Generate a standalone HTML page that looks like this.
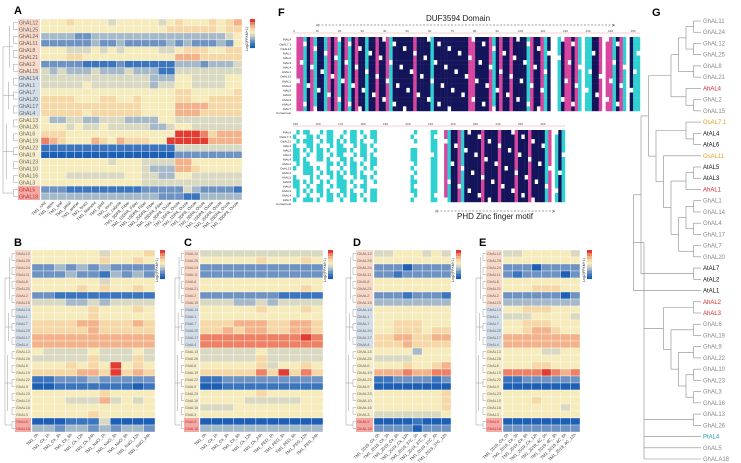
<!DOCTYPE html>
<html><head><meta charset="utf-8"><style>
body{margin:0;background:#fff;}
svg{display:block;font-family:"Liberation Sans",sans-serif;}
</style></head><body>
<svg id="fig" width="741" height="463" viewBox="0 0 741 463" xmlns="http://www.w3.org/2000/svg">
<g id="layer"></g>
</svg>
<script>
const NS="http://www.w3.org/2000/svg";
const rowNames=["GhAL12","GhAL25","GhAL24","GhAL11","GhAL8","GhAL21","GhAL2","GhAL15","GhAL14","GhAL1","GhAL7","GhAL20","GhAL17","GhAL4","GhAL13","GhAL26","GhAL6","GhAL19","GhAL22","GhAL9","GhAL23","GhAL10","GhAL16","GhAL3","GhAL5","GhAL18"];
const colsA=["TM1_root","TM1_stem","TM1_leaf","TM1_petal","TM1_anther","TM1_bract","TM1_filament","TM1_pistil","TM1_torus","TM1_calycle","TM1_5DPA_Fiber","TM1_10DPA_Fiber","TM1_15DPA_Fiber","TM1_20DPA_Fiber","TM1_25DPA_Fiber","TM1_-3DPA_Ovule","TM1_0DPA_Ovule","TM1_1DPA_Ovule","TM1_3DPA_Ovule","TM1_5DPA_Ovule","TM1_10DPA_Ovule","TM1_20DPA_Ovule","TM1_25DPA_Ovule","TM1_35DPA_Ovule"];
const colsB=["TM1_0h","TM1_Ck_1h","TM1_Ck_3h","TM1_Ck_6h","TM1_Ck_12h","TM1_Ck_24h","TM1_NaCl_1h","TM1_NaCl_3h","TM1_NaCl_6h","TM1_NaCl_12h","TM1_NaCl_24h"];
const colsC=["TM1_0h","TM1_Ck_1h","TM1_Ck_3h","TM1_Ck_6h","TM1_Ck_12h","TM1_Ck_24h","TM1_PEG_1h","TM1_PEG_3h","TM1_PEG_6h","TM1_PEG_12h","TM1_PEG_24h"];
const colsD=["TM1_2019_Ck_0h","TM1_2019_Ck_3h","TM1_2019_Ck_6h","TM1_2019_Ck_12h","TM1_2019_37C_0h","TM1_2019_37C_3h","TM1_2019_37C_6h","TM1_2019_37C_12h"];
const colsE=["TM1_2019_Ck_0h","TM1_2019_Ck_3h","TM1_2019_Ck_6h","TM1_2019_Ck_12h","TM1_2019_4C_0h","TM1_2019_4C_3h","TM1_2019_4C_6h","TM1_2019_4C_12h"];
const valsA=["555655554555554565556567","555555555555555666666566","333322333333333333333345","222222322322222323222325","555444545455554456665566","555665555555555577766666","222221111211111133323334","434333433343331144444444","444444444444433355444455","444445444444434455444455","555555555555555566555556","666655566556555566556666","666666666666555577776666","666665666666555577766666","533443344433335544444444","555454454444433455444444","666555555555555599986777","876555765766655999997777","111111111111111144444444","000000000000000022222222","555555554555444477555555","555555555555433377655555","555444444455443355444444","555555555555444444444444","222111111111222224322221","333333333333332221133333"];
const valsB=["55555545556","55555565565","22323232222","22232213232","55555545555","55556565565","22111111111","44433434444","55555655565","55555655555","66667766676","66666766666","77777777777","77777777777","54444544454","44444644464","55565659565","66667769676","11222322222","00111111101","55555565555","55544474545","55555555555","55555655555","00011140000","33233232332"];
const valsC=["44444444444","55555655565","22222222222","22222222222","55555555555","55555555565","22222221111","44433434444","55555655565","55555555555","66677766776","66767766776","88888888898","88888888888","44444544444","44444644444","55555645565","66666869686","11222222222","00111111111","55555655555","55554444455","44455555555","55555555555","00000000000","33333333333"];
const valsD=["44555454","55555555","22202222","22122222","55555555","55555555","22212221","33333333","55555555","55555555","55666555","55666566","66776677","66676666","55553555","44445555","55565567","77787788","11222212","00000000","55555556","55555556","55555556","44444445","00001000","22220222"];
const valsE=["44555554","55555555","22202222","21222202","55555555","55566655","22222202","33333333","55666555","44455554","55666555","55677655","77777777","77777777","55554455","55555555","55566555","88889878","11222222","00000000","55555555","55565555","55555545","55555555","00000000","22222222"];

const stops=["#1c5fb4","#3a75bd","#6e93c2","#a5b9c9","#d9d9c2","#f6ebbb","#f6d8a6","#f3b28a","#ee8063","#e23b30"];
const L=document.getElementById('layer');
function mk(tag,attrs,parent){const e=document.createElementNS(NS,tag);for(const k in attrs)e.setAttribute(k,attrs[k]);(parent||L).appendChild(e);return e;}
function txt(x,y,s,size,fill,parent,extra){const t=mk('text',Object.assign({x:x,y:y,'font-size':size,fill:fill},extra||{}),parent);t.textContent=s;return t;}
function groupBg(i){return i<8?"#f8d8c6":i<14?"#d3dee8":i<24?"#f6edcc":"#f3a9a6";}

function heat(name,letter,lx,ly,dx,labX,x0,y0,w,h,vals,cols,cbx){
  const g=mk('g',{});
  
  
  const t=txt(lx,ly,letter,11,"#000",g,{'font-weight':'bold'});
  
  
  const nr=vals.length,nc=vals[0].length,cw=w/nc,rh=h/nr;
  const dg=mk('g',{stroke:"#999","stroke-width":0.5,fill:"none"},g);
  
  
  const labW=x0-labX-1, fs=Math.min(5.5,labW/4.2);
  const dw=labX-dx;
  for(let r=0;r<nr;r++){
    const yy=y0+(r+0.5)*rh;
    const bg=mk('rect',{x:labX,y:y0+r*rh,width:labW,height:rh,fill:groupBg(r)},g);
    
    
    const rl=txt(labX+1,yy+fs*0.35,rowNames[r],fs,r>=24?"#c0302a":"#666",g);
    
    
    mk('line',{x1:labX-dw*0.3,x2:labX,y1:yy,y2:yy},dg);
  }
  for(let r=0;r<nr-1;r+=2){mk('line',{x1:labX-dw*0.3,x2:labX-dw*0.3,y1:y0+(r+0.5)*rh,y2:y0+(r+1.5)*rh},dg);}
  const grp=[[0,8],[8,14],[14,24],[24,26]];
  grp.forEach(function(p,i){const a=p[0],b=p[1];const xx=labX-dw*(0.55+0.1*i);mk('line',{x1:xx,x2:xx,y1:y0+(a+1)*rh,y2:y0+(b-1)*rh},dg);mk('line',{x1:xx,x2:labX-dw*0.3,y1:y0+(a+b)/2*rh,y2:y0+(a+b)/2*rh},dg);mk('line',{x1:dx,x2:xx,y1:y0+(a+b)/2*rh,y2:y0+(a+b)/2*rh},dg);});
  mk('line',{x1:dx,x2:dx,y1:y0+4*rh,y2:y0+25*rh},dg);
  for(let r=0;r<nr;r++)for(let c=0;c<nc;c++){
    const v=+vals[r][c];
    const cell=mk('rect',{x:x0+c*cw,y:y0+r*rh,width:cw,height:rh,fill:stops[v],stroke:"#fff","stroke-width":0.35},g);
    
    
  }
  for(let c=0;c<nc;c++){
    const xx=x0+(c+0.6)*cw,yy=y0+h+3;
    const cl=txt(xx,yy,cols[c],4.2,"#333",g,{transform:'rotate(-45 '+xx+' '+yy+')','text-anchor':'end'});
    
    
  }
  const cb=mk('g',{},g);
  
  
  for(let i=0;i<10;i++)mk('rect',{x:cbx,y:y0+(9-i)*2.9,width:5,height:3,fill:stops[i]},cb);
  txt(cbx-2,y0+20,"Log2(FPKM+1)",3.5,"#333",cb,{transform:'rotate(-90 '+(cbx-2)+' '+(y0+20)+')','text-anchor':'middle'});
}
heat('heatmap-a','A',14,14,3,18,41,19,201,181,valsA,colsA,250);
heat('heatmap-b','B',14,246,5,15,32,250,123,182,valsB,colsB,160);
heat('heatmap-c','C',184,246,175,184,200,250,123,182,valsC,colsC,328);
heat('heatmap-d','D',353,246,346,356,374,250,77,182,valsD,colsD,456);
heat('heatmap-e','E',479,246,476,486,503,250,77,182,valsE,colsE,587);

const seqNames=["PtAL4","OsAL7.1","OsAL11","AtAL1","AtAL2","AtAL3","AtAL4","AhAL1","OsAL13","AhAL1","AhAL2","AtAL5","AtAL6","AhAL3","AhAL4","AtAL7","Consensus"];
const block1="wppcnpcnncpnpcnpcnpnncnnpnnpcnnnnnnpnnnncnnnnnnnnnnppnnnnpcnpnnpnnnncpnnpcnwwcnppnpcwccnnpwppcnpcwncc";
const block2="ccwcccwccwccwcccwccwccwccwwwwwwwwwwccwwwwccwwpcnnpcnnnnnpnnnnpnnnnpnnnpnnnncpwcnc";
const fcol={n:"#14145a",p:"#d8459f",c:"#2fd0d2",w:"#ffffff"};
const F=mk('g',{});


txt(278,16,"F",11,"#000",F,{'font-weight':'bold'});
function block(x0,x1,y0,y1,pattern,textMode){
  const n=pattern.length,cw=(x1-x0)/n,rows=16,rh=(y1-y0)/rows;
  for(let c=0;c<n;c++){
    const ty=pattern[c];
    for(let r=0;r<rows;r++){
      let col=fcol[ty];
      if(ty!=='w' && (c*7+r*5)%13===0) col="#ffffff";
      if(textMode && ty==='c' && c<40 && (c*3+r*11)%7<2) col="#ffffff";
      const cell=mk('rect',{x:x0+c*cw,y:y0+r*rh,width:cw+0.2,height:rh+0.2,fill:col},F);
      
      
    }
  }
  for(let r=0;r<rows;r++){
    const nm=txt(x0-2,y0+(r+0.8)*rh,seqNames[r],3,"#222",F,{'text-anchor':'end'});
    
    
  }
  txt(x0-2,y1+3,"Consensus",3,"#222",F,{'text-anchor':'end'});
  mk('line',{x1:x0,x2:x1,y1:y0-4,y2:y0-4,stroke:"#e7a0a0","stroke-width":0.5},F);
}
block(293,640,37,111,block1,false);
block(293,565,130,202,block2,true);
for(let i=0;i<16;i++){txt(293+i*22.5,32,String(i*10),3,"#444",F);}
for(let i=0;i<12;i++){txt(293+i*22.5,125,String(150+i*10),3,"#444",F);}
txt(458,21,"DUF3594 Domain",8,"#222",F,{'text-anchor':'middle'});
mk('line',{x1:318,x2:615,y1:25,y2:25,stroke:"#444","stroke-width":0.6,"stroke-dasharray":"2 1.5"},F);
txt(316,27,"<",5,"#444",F);txt(612,27,">",5,"#444",F);
txt(495,219,"PHD Zinc finger motif",8,"#222",F,{'text-anchor':'middle'});
mk('line',{x1:437,x2:555,y1:211,y2:211,stroke:"#444","stroke-width":0.6,"stroke-dasharray":"2 1.5"},F);
txt(435,213,"<",5,"#444",F);txt(552,213,">",5,"#444",F);

const leaves=["GhAL11","GhAL24","GhAL12","GhAL25","GhAL8","GhAL21","AhAL4","GhAL2","GhAL15","OsAL7.1","AtAL4","AtAL6","OsAL11","AtAL5","AtAL3","AhAL1","GhAL1","GhAL14","GhAL4","GhAL17","GhAL7","GhAL20","AtAL7","AtAL2","AtAL1","AhAL2","AhAL3","GhAL6","GhAL19","GhAL9","GhAL22","GhAL10","GhAL23","GhAL3","GhAL16","GhAL13","GhAL26","PtAL4","GhAL5","GhALA18"];
const cladeA=[[[[0,1],[2,3]],[4,5]],[6,[7,8]]];
const cladeB=[[9,[10,11]],[12,[[[13,14],15],[[[16,17],[18,19]],[20,21]]]]];
const cladeBig=[[[cladeA,cladeB],[22,23]],24];
const cladeC=[[25,26],[[27,28],[[29,30],[[31,32],[33,34]]]]];
const tree=[cladeBig,cladeC,[35,36],37,38,39];
function leafColor(n){return n.startsWith("Ah")?"#d62b2b":n.startsWith("Os")?"#e8a020":n.startsWith("At")?"#111":n.startsWith("Pt")?"#2a9bc0":"#888";}
const G=mk('g',{stroke:"#888","stroke-width":0.6,fill:"none"});


txt(652,16,"G",11,"#000",null,{'font-weight':'bold'});
const ly0=21,lsp=(459-21)/39,leafX=701;
function draw(n){
  if(!Array.isArray(n)){const y=ly0+n*lsp;
    const t=txt(leafX+2,y+2,leaves[n],6,leafColor(leaves[n]),null);
    
    
    return {x:leafX,y:y};}
  const ch=n.map(draw);
  const xx=n===tree?644:Math.min.apply(null,ch.map(c=>c.x))-7.5;
  const ys=ch.map(c=>c.y);
  mk('line',{x1:xx,x2:xx,y1:Math.min.apply(null,ys),y2:Math.max.apply(null,ys)},G);
  ch.forEach(c=>mk('line',{x1:xx,x2:c.x,y1:c.y,y2:c.y},G));
  return {x:xx,y:(Math.min.apply(null,ys)+Math.max.apply(null,ys))/2};
}
draw(tree);
</script>
</body></html>
